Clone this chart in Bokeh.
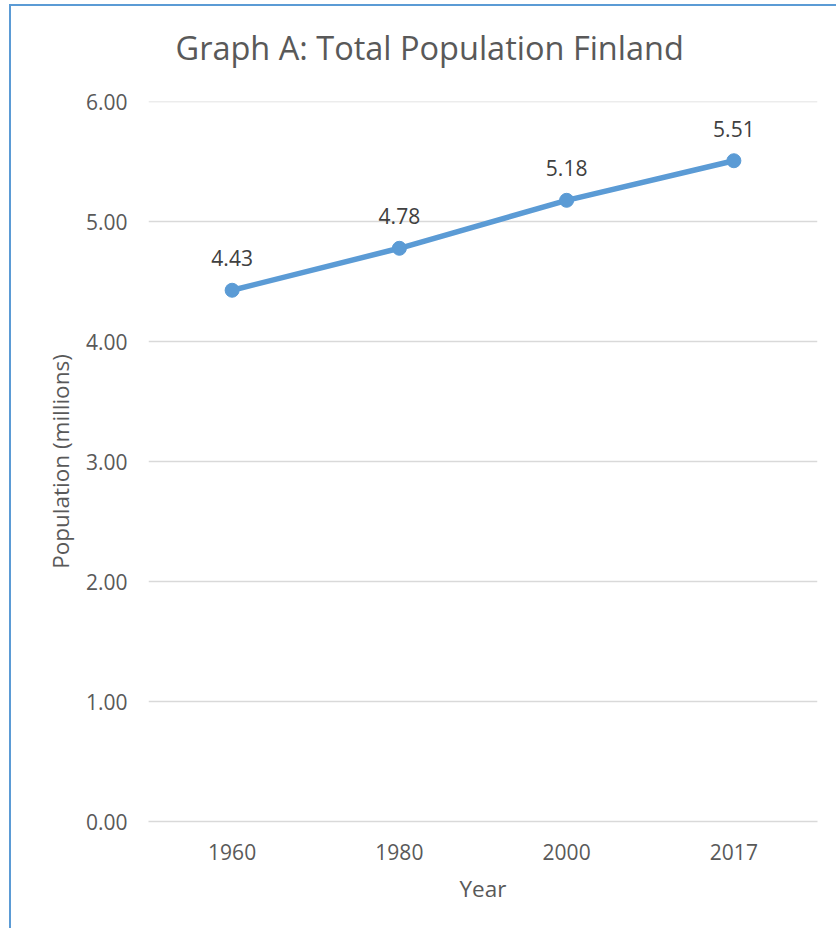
from bokeh.plotting import figure
from bokeh.models import ColumnDataSource, FixedTicker, Range1d, PrintfTickFormatter, Title
from bokeh.core.properties import value
from bokeh.embed import file_html
from bokeh.resources import INLINE

title_text = "Graph A: Total Population Finland"
years = ["1960", "1980", "2000", "2017"]
population = [4.43, 4.78, 5.18, 5.51]
y_ticks = [0, 1, 2, 3, 4, 5, 6]

FONT = "Open Sans"
BLUE = "#5b9bd5"
GREY = "#595959"

src = ColumnDataSource(dict(
    x=years, y=population, lbl=["%.2f" % v for v in population]))

p = figure(x_range=years, y_range=Range1d(0, 6.004),
           frame_width=669, frame_height=720,
           width=825, height=922,
           min_border_left=137, min_border_top=95,
           min_border_right=19, min_border_bottom=107,
           output_backend="svg", toolbar_location=None,
           title=title_text)
p.styles = {"border-left": "2px solid " + BLUE, "border-top": "2px solid " + BLUE,
            "margin-left": "9px", "margin-top": "4px"}
p.outline_line_color = None
p.background_fill_color = "white"
p.border_fill_color = "white"

p.title.text_font = FONT
p.title.text_font_size = "32.5px"
p.title.text_font_style = "normal"
p.title.text_color = GREY
p.title.align = "left"
p.title.offset = 27
p.title.standoff = 0

# spacer between the title and the plot frame
p.add_layout(Title(text=" ", text_font_size="10px", standoff=19), "above")

p.line("x", "y", source=src, line_color=BLUE, line_width=5.5)
p.scatter("x", "y", source=src, size=14, fill_color=BLUE, line_color=BLUE)
p.text("x", "y", text="lbl", source=src, y_offset=-32,
       text_align="center", text_baseline="middle",
       text_font=value(FONT), text_font_size="21px", text_color="#404040")

p.xgrid.grid_line_color = None
p.ygrid.grid_line_color = "#d9d9d9"
p.ygrid.grid_line_width = 1.5
p.yaxis.ticker = FixedTicker(ticks=y_ticks)
p.yaxis.formatter = PrintfTickFormatter(format="%.2f")

for ax in (p.xaxis, p.yaxis):
    ax.major_tick_line_color = None
    ax.minor_tick_line_color = None
    ax.major_label_text_font = FONT
    ax.major_label_text_font_size = "21px"
    ax.major_label_text_color = GREY
    ax.axis_label_text_font = FONT
    ax.axis_label_text_font_size = "22.5px"
    ax.axis_label_text_font_style = "normal"
    ax.axis_label_text_color = GREY

p.yaxis.axis_line_color = None
p.xaxis.axis_line_color = "#d9d9d9"
p.xaxis.axis_line_width = 1.5
p.yaxis.major_label_standoff = 15
p.xaxis.major_label_standoff = 16
p.yaxis.axis_label = "Population (millions)"
p.xaxis.axis_label = "Year"
p.yaxis.axis_label_standoff = 7
p.xaxis.axis_label_standoff = 10

open("out.html", "w").write(file_html(p, INLINE))
